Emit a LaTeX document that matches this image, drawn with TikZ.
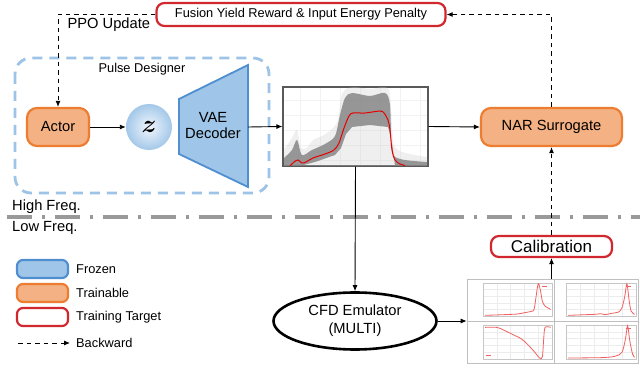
\documentclass[tikz,border=0pt]{standalone}
\usepackage{fontspec}
\setmainfont{Liberation Sans}
\usepackage{bm}
\usepackage{graphicx}
\usetikzlibrary{arrows.meta,shapes.geometric}
\definecolor{blueF}{HTML}{9FC5E8}
\definecolor{blueB}{HTML}{4F8FD0}
\definecolor{blueD}{HTML}{9DC3E6}
\definecolor{orangeF}{HTML}{F4B183}
\definecolor{orangeB}{HTML}{ED7D31}
\definecolor{redB}{HTML}{D0282E}
\definecolor{curveR}{HTML}{F06060}
\tikzset{
  mainfont/.style={font=\fontsize{14.7}{17}\selectfont},
  smallfont/.style={font=\fontsize{12.8}{15}\selectfont},
  trainable/.style={draw=orangeB,fill=orangeF,line width=2.2pt,rounded corners=10pt,mainfont},
  frozenbox/.style={draw=blueB,fill=blueF,line width=2.2pt,rounded corners=6pt},
  targetbox/.style={draw=redB,fill=white,line width=2.2pt,rounded corners=8pt},
  arr/.style={-{Latex[length=6pt,width=5pt]},line width=0.9pt},
  dasharr/.style={-{Latex[length=6pt,width=5pt]},line width=0.9pt,dash pattern=on 4.5pt off 4pt},
  pframe/.style={draw=gray!45,line width=0.4pt},
  pgrid/.style={draw=gray!15,line width=0.3pt},
  pcurve/.style={draw=curveR,line width=0.8pt},
}
\begin{document}
\begin{tikzpicture}[x=1pt,y=-1pt]
\useasboundingbox (0,0) rectangle (640,371);
\fill[white] (0,0) rectangle (640,371);

% Pulse designer container
\draw[blueD,line width=2.8pt,dash pattern=on 10pt off 7pt,rounded corners=16pt] (15,58) rectangle (269,193);
\node[smallfont] (pdlabel) at (142,69) {Pulse Designer};

% Reward box
\node[targetbox,smallfont,minimum width=289pt,minimum height=23pt,inner sep=0pt] (reward) at (301,14.5) {Fusion Yield Reward \& Input Energy Penalty};
\node[mainfont,anchor=west] (ppo) at (64,25) {PPO Update};

% Actor
\node[trainable,minimum width=62pt,minimum height=38pt,inner sep=0pt] (actor) at (58,127) {Actor};

% z
\node[circle,minimum size=46pt,inner sep=0pt,inner color=blueF!15,outer color=blueF!95] (z) at (149,127) {\scalebox{2.5}{$\bm{z}$}};

% VAE decoder trapezoid
\draw[blueB,fill=blueF,line width=1.8pt,line join=miter] (179,99) -- (248,65) -- (248,187) -- (179,154) -- cycle;
\node[mainfont,align=center] (dec) at (213,126) {VAE\\[-1pt]Decoder};
\coordinate (decR) at (248,127);

% Ensemble plot
\node[draw=gray!70!black,line width=1.2pt,minimum width=145pt,minimum height=79pt,inner sep=0pt] (plot) at (355.5,126.5) {};
\begin{scope}
\clip (283.6,87.6) rectangle (427.4,165.4);
\foreach \gx in {300,320,...,420} \draw[gray!10,line width=0.3pt] (\gx,88) -- (\gx,165);
\foreach \gy in {100,115,...,160} \draw[gray!10,line width=0.3pt] (284,\gy) -- (427,\gy);
\fill[gray!40,opacity=0.3] plot[smooth,tension=0.5] coordinates {(284,150) (292,138) (297,130) (301,148) (307,148) (313,140) (322,136) (331,130) (338,120) (341,97) (346,89) (355,87) (370,89) (385,87) (390,95) (393,140) (398,150) (410,154) (427,157)} -- (427,166) -- (284,166) -- cycle;
\fill[gray,opacity=0.8] plot[smooth,tension=0.5] coordinates {(284,158) (292,150) (297,140) (302,155) (312,150) (325,144) (335,136) (340,115) (345,98) (352,93) (370,96) (385,93) (390,105) (392,150) (400,159) (427,162)} -- (427,166) -- (395,166) -- (393,150) -- (391,138) -- (388,127) -- (370,125) -- (352,127) -- (346,134) -- (341,148) -- (335,155) -- (315,162) -- (300,166) -- (284,166) -- cycle;
\draw[red!90!black,line width=1pt] plot[smooth,tension=0.5] coordinates {(290,166) (294,162) (298,160) (302,163) (306,162) (313,158) (325,154) (334,150) (339,143) (344,128) (349,116) (353,113) (365,113) (380,111) (384,113) (388,120) (390,130) (392,150) (395,160) (400,164) (405,165.5)};
\end{scope}
\draw[gray!70!black,line width=1.2pt] (plot.south west) rectangle (plot.north east);

% NAR surrogate
\node[trainable,minimum width=141pt,minimum height=38pt,inner sep=0pt] (nar) at (551.5,127) {NAR Surrogate};

% Frequency separator
\coordinate (sepL) at (7,217);
\coordinate (sepR) at (640,217);
\draw[gray!80,line width=3.5pt,dash pattern=on 25pt off 10pt on 3pt off 10pt] (sepL) -- (sepR);
\node[mainfont,anchor=west,inner sep=0pt] (hf) at (12,207) {High Freq.};
\node[mainfont,anchor=west,inner sep=0pt] (lf) at (12,228) {Low Freq.};

% CFD emulator
\node[ellipse,draw=black,line width=2.6pt,minimum width=163pt,minimum height=57pt,inner sep=0pt,mainfont,align=center] (cfd) at (355,321) {CFD Emulator\\[1pt](MULTI)};

% Calibration
\node[targetbox,minimum width=121pt,minimum height=21pt,inner sep=0pt,font=\fontsize{17}{19}\selectfont] (cal) at (551.5,246.5) {Calibration};

% Output grid of plots
\node[draw=gray!50,line width=0.6pt,fill=white,minimum width=171pt,minimum height=84pt,inner sep=0pt] (grid) at (552.5,321) {};
\draw[gray!50,line width=0.5pt] (554,279) -- (554,363) (467,321) -- (638,321);
% TL
\begin{scope}[shift={(483,316)},x=69pt,y=33pt]
\foreach \g in {0.2,0.4,0.6,0.8} {\draw[pgrid] (\g,0) -- (\g,1); \draw[pgrid] (0,\g) -- (1,\g);}
\draw[pframe] (0,0) rectangle (1,1);
\draw[pcurve] plot[smooth,tension=0.5] coordinates {(0.03,0.02) (0.3,0.04) (0.5,0.06) (0.6,0.1) (0.7,0.14) (0.74,0.2) (0.77,0.6) (0.8,0.98) (0.83,0.8) (0.86,0.45) (0.9,0.3) (0.98,0.2)};
\draw[pcurve,line width=0.5pt] (0.86,0.9) -- (0.93,0.9);
\end{scope}
% TR
\begin{scope}[shift={(566,316)},x=70pt,y=33pt]
\foreach \g in {0.2,0.4,0.6,0.8} {\draw[pgrid] (\g,0) -- (\g,1); \draw[pgrid] (0,\g) -- (1,\g);}
\draw[pframe] (0,0) rectangle (1,1);
\draw[pcurve] plot[smooth,tension=0.5] coordinates {(0.03,0.02) (0.4,0.05) (0.5,0.07) (0.55,0.04) (0.65,0.08) (0.75,0.12) (0.8,0.25) (0.84,0.6) (0.87,0.98) (0.9,0.5) (0.93,0.15) (0.98,0.05)};
\draw[pcurve,line width=0.5pt] (0.86,0.9) -- (0.93,0.9);
\end{scope}
% BL
\begin{scope}[shift={(483,359)},x=69pt,y=34pt]
\foreach \g in {0.2,0.4,0.6,0.8} {\draw[pgrid] (\g,0) -- (\g,1); \draw[pgrid] (0,\g) -- (1,\g);}
\draw[pframe] (0,0) rectangle (1,1);
\draw[pcurve] plot[smooth,tension=0.5] coordinates {(0.03,0.93) (0.2,0.93) (0.3,0.85) (0.45,0.7) (0.55,0.6) (0.65,0.42) (0.75,0.2) (0.82,0.03) (0.86,0.06) (0.88,0.6) (0.9,0.93) (0.98,0.93)};
\draw[pcurve,line width=0.5pt] (0.05,0.12) -- (0.12,0.12);
\end{scope}
% BR
\begin{scope}[shift={(566,359)},x=70pt,y=34pt]
\foreach \g in {0.2,0.4,0.6,0.8} {\draw[pgrid] (\g,0) -- (\g,1); \draw[pgrid] (0,\g) -- (1,\g);}
\draw[pframe] (0,0) rectangle (1,1);
\draw[pcurve] plot[smooth,tension=0.5] coordinates {(0.03,0.03) (0.5,0.04) (0.7,0.08) (0.8,0.2) (0.85,0.6) (0.88,0.98) (0.91,0.55) (0.95,0.15) (0.98,0.05)};
\draw[pcurve,line width=0.5pt] (0.86,0.9) -- (0.93,0.9);
\end{scope}

% Connectors
\draw[arr] (actor) -- (z);
\draw[arr] (decR) -- (plot.west);
\draw[arr] (plot.east) -- (nar.west);
\draw[arr] (plot.south) -- (cfd.north);
\draw[arr] (cfd.east) -- (grid.west);
\draw[arr] (cal.south |- grid.north) -- (cal.south);
\draw[dasharr] (cal.north) -- (nar.south);
\draw[dasharr] (nar.north) |- (reward.east);
\draw[dasharr] (reward.west) -| (actor.north);

% Legend
\node[frozenbox,minimum width=51pt,minimum height=18pt,inner sep=0pt] (lgf) at (42.5,269) {};
\node[smallfont,anchor=west,inner sep=0pt] (lgft) at (76,269) {Frozen};
\node[draw=orangeB,fill=orangeF,line width=2.2pt,rounded corners=6pt,minimum width=51pt,minimum height=18pt,inner sep=0pt] (lgo) at (42.5,293) {};
\node[smallfont,anchor=west,inner sep=0pt] (lgot) at (76,293) {Trainable};
\node[draw=redB,fill=white,line width=2.2pt,rounded corners=6pt,minimum width=51pt,minimum height=18pt,inner sep=0pt] (lgr) at (42.5,317) {};
\node[smallfont,anchor=west,inner sep=0pt] (lgrt) at (76,317) {Training Target};
\coordinate (bkA) at (18,343);
\coordinate (bkB) at (70,343);
\draw[dasharr] (bkA) -- (bkB);
\node[smallfont,anchor=west,inner sep=0pt] (lgbt) at (76,343) {Backward};
\end{tikzpicture}
\end{document}
